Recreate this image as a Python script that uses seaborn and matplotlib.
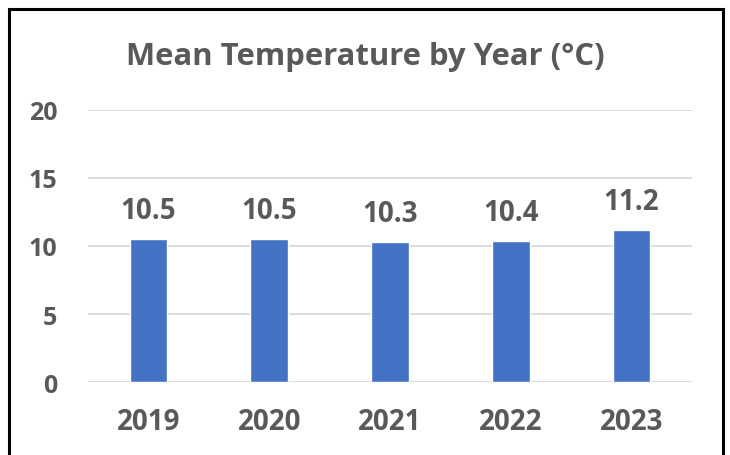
import matplotlib
matplotlib.use("Agg")
import matplotlib.pyplot as plt
import seaborn as sns
import pandas as pd
from matplotlib.patches import Rectangle

years = ["2019", "2020", "2021", "2022", "2023"]
temps = [10.5, 10.5, 10.3, 10.4, 11.2]
y_ticks = [0, 5, 10, 15, 20]
title = "Mean Temperature by Year (°C)"

sns.set_theme(style="white")
plt.rcParams['font.family'] = ['Open Sans', 'DejaVu Sans']
TXT = "#595959"

df = pd.DataFrame({"year": years, "temp": temps})
W, H = 730, 456
fig = plt.figure(figsize=(W/100, H/100), dpi=100)
ax = fig.add_axes([88/W, 1-383.3/H, (692-88)/W, (383.3-110.7)/H])

sns.barplot(data=df, x="year", y="temp", color="#4472C4", saturation=1,
            width=0.31, ax=ax, zorder=3)
ax.set_ylim(0, 20)
ax.set_xlim(-0.5, 4.5)
ax.set_yticks(y_ticks)
ax.set_yticklabels([str(t) for t in y_ticks])
ax.yaxis.grid(True, color="#D9D9D9", lw=1.3, zorder=0)
ax.set_axisbelow(True)
for s in ax.spines.values():
    s.set_visible(False)
ax.set_xlabel("")
ax.set_ylabel("")
ax.tick_params(axis="y", length=0, pad=22, labelsize=18, labelcolor=TXT)
ax.tick_params(axis="x", length=0, pad=18, labelsize=20, labelcolor=TXT)
for lab in ax.get_xticklabels() + ax.get_yticklabels():
    lab.set_fontweight("bold")

ax.bar_label(ax.containers[0], labels=[f"{v:.1f}" for v in temps], padding=10,
             fontsize=20, fontweight="bold", color=TXT)

fig.text(365/W, 1-65/H, title, ha="center", va="baseline", fontsize=22.3,
         fontweight="bold", color=TXT)

fig.add_artist(Rectangle((8.5/W, -0.1), (722.5-8.5)/W, 1.1-9.5/H,
                         transform=fig.transFigure, fill=False,
                         edgecolor="black", lw=2.2))

fig.savefig("out.png", dpi=100)
